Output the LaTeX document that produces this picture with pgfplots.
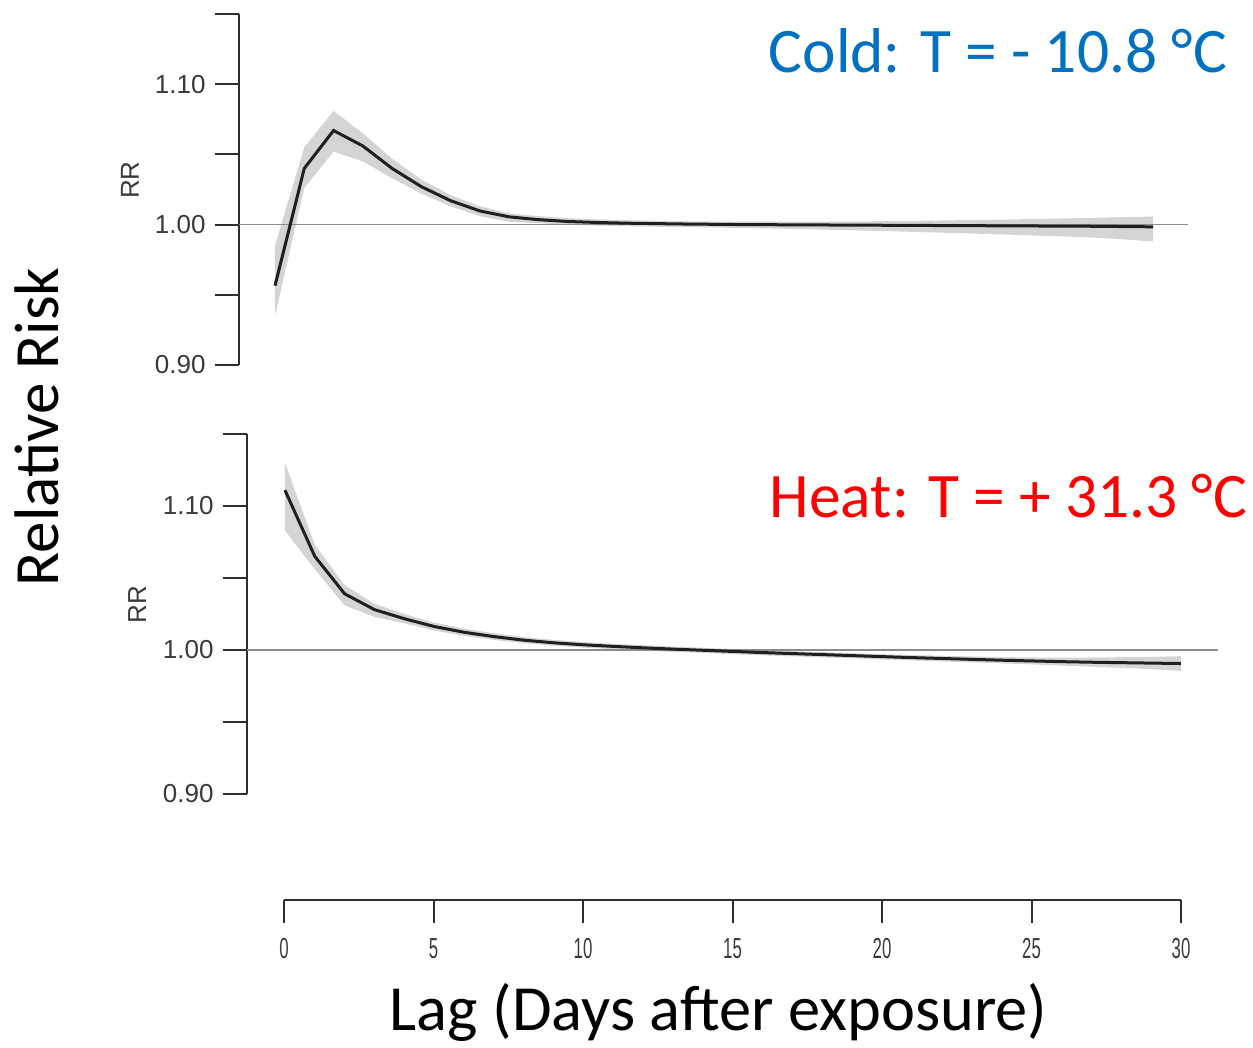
\documentclass[border=0pt]{standalone}
\usepackage{pgfplots}
\usepackage{pgfplotstable}
\pgfplotsset{compat=1.18}
\usepackage{fontspec}
\setmainfont{Carlito}
\newfontfamily\arial{Liberation Sans}

\definecolor{coldblue}{HTML}{0070C0}
\definecolor{heatred}{HTML}{FF0000}
\definecolor{bandgray}{HTML}{D4D4D4}
\definecolor{refgray}{HTML}{8C8C8C}
\definecolor{axisgray}{HTML}{2E2E2E}
\definecolor{labelgray}{HTML}{3A3A3A}
\newcommand\tickfont{\arial\fontsize{13}{15}\selectfont}

% lag, RR (cold, T = -10.8 C)
\pgfplotstableread{
lag rr
0   0.9565
1   1.040
2   1.067
3   1.056
4   1.040
5   1.027
6   1.017
7   1.0097
8   1.0055
9   1.0035
10  1.0022
11  1.0015
12  1.0010
13  1.0007
14  1.0004
15  1.0002
16  1.0000
17  0.9999
18  0.9998
19  0.9997
20  0.9996
21  0.9995
22  0.9994
23  0.9993
24  0.9992
25  0.9991
26  0.9990
27  0.9989
28  0.9988
29  0.9986
30  0.9984
}\coldrr

% lag, RR (heat, T = +31.3 C)
\pgfplotstableread{
lag rr
0   1.111
1   1.065
2   1.039
3   1.028
4   1.0217
5   1.0163
6   1.0123
7   1.0093
8   1.0068
9   1.0050
10  1.0036
11  1.0025
12  1.0015
13  1.0006
14  0.9998
15  0.9990
16  0.9982
17  0.9975
18  0.9968
19  0.9961
20  0.9954
21  0.9947
22  0.9941
23  0.9935
24  0.9929
25  0.9924
26  0.9919
27  0.9915
28  0.9912
29  0.9909
30  0.9906
}\heatrr

\pgfplotsset{
  rrpanel/.style={
    scale only axis,
    anchor=south west,
    hide x axis,
    axis y line*=left,
    ymin=0.9, ymax=1.15,
    ytick={0.9,0.95,1,1.05,1.1,1.15},
    yticklabels={0.90,,1.00,,1.10,},
    tick align=outside,
    major tick length=12pt,
    y axis line style={line width=1pt, color=axisgray},
    tick style={line width=1pt, color=axisgray},
    yticklabel style={font=\tickfont, text=labelgray, inner xsep=4.5pt},
    ylabel={RR},
    ylabel style={font=\tickfont, text=labelgray, anchor=center},
  },
  band/.style={fill=bandgray, draw=none, no markers},
  curve/.style={color=black!88, line width=1.5pt, no markers},
  refline/.style={color=refgray, line width=0.75pt, no markers},
}

\begin{document}
\begin{tikzpicture}
\path[use as bounding box] (0,0) rectangle (626.5pt,524pt);

% cold panel
\begin{axis}[rrpanel,
  at={(119.5pt,341.5pt)}, width=474.5pt, height=175.5pt,
  xmin=-1.23, xmax=31.19,
  ylabel style={at={(axis description cs:-0.115,0.527)}},
]
% confidence band: lower limit lag 0..30, then upper limit lag 30..0
\addplot[band] coordinates {
(0,0.935)(1,1.026)(2,1.052)(3,1.045)(4,1.033)(5,1.022)(6,1.013)(7,1.006)
(8,1.002)(9,1.001)(10,1.000)(11,0.9993)(12,0.9989)(13,0.9985)(14,0.9982)
(15,0.9979)(16,0.9975)(17,0.9972)(18,0.9968)(19,0.9963)(20,0.9958)
(21,0.9953)(22,0.9947)(23,0.9941)(24,0.9935)(25,0.9929)(26,0.9922)
(27,0.9915)(28,0.9907)(29,0.9895)(30,0.9880)
(30,1.0057)(29,1.0053)(28,1.0048)(27,1.0044)(26,1.0040)(25,1.0036)
(24,1.0033)(23,1.0030)(22,1.0027)(21,1.0025)(20,1.0023)(19,1.0022)
(18,1.0021)(17,1.0021)(16,1.0021)(15,1.0022)(14,1.0024)(13,1.0027)
(12,1.0031)(11,1.0037)(10,1.0045)(9,1.006)(8,1.008)(7,1.013)(6,1.021)
(5,1.032)(4,1.047)(3,1.065)(2,1.081)(1,1.055)(0,0.985)
} --cycle;
\addplot[refline] coordinates {(-1.23,1) (31.19,1)};
\addplot[curve] table[x=lag, y=rr]{\coldrr};
\end{axis}

% heat panel
\begin{axis}[rrpanel,
  at={(123.5pt,127pt)}, width=485.5pt, height=180pt,
  xmin=-1.27, xmax=31.24,
  ylabel style={at={(axis description cs:-0.113,0.525)}},
]
\addplot[band] coordinates {
(0,1.083)(1,1.056)(2,1.031)(3,1.023)(4,1.0185)(5,1.0135)(6,1.0098)
(7,1.0070)(8,1.0047)(9,1.0030)(10,1.0017)(11,1.0006)(12,0.9996)
(13,0.9987)(14,0.9979)(15,0.9971)(16,0.9963)(17,0.9956)(18,0.9949)
(19,0.9942)(20,0.9935)(21,0.9928)(22,0.9921)(23,0.9914)(24,0.9907)
(25,0.9900)(26,0.9892)(27,0.9884)(28,0.9876)(29,0.9867)(30,0.9855)
(30,0.9957)(29,0.9952)(28,0.9950)(27,0.9948)(26,0.9947)(25,0.9948)
(24,0.9951)(23,0.9955)(22,0.9960)(21,0.9965)(20,0.9971)(19,0.9978)
(18,0.9985)(17,0.9992)(16,0.9999)(15,1.0007)(14,1.0015)(13,1.0024)
(12,1.0033)(11,1.0043)(10,1.0055)(9,1.0070)(8,1.0090)(7,1.0116)
(6,1.0148)(5,1.019)(4,1.025)(3,1.032)(2,1.045)(1,1.073)(0,1.130)
} --cycle;
\addplot[refline] coordinates {(-1.27,1) (31.24,1)};
\addplot[curve] table[x=lag, y=rr]{\heatrr};
\end{axis}

% shared lag axis
\begin{axis}[
  scale only axis,
  anchor=south west,
  at={(142pt,74pt)}, width=448.5pt, height=20pt,
  xmin=0, xmax=30, ymin=0, ymax=1,
  axis x line*=bottom, hide y axis,
  xtick={0,5,...,30},
  tick align=outside,
  major tick length=11.5pt,
  x axis line style={line width=1pt, color=axisgray},
  tick style={line width=1pt, color=axisgray},
  xticklabel style={font=\arial\fontsize{14.5}{16}\selectfont, text=labelgray, xscale=0.58, yshift=-4pt},
  /pgf/number format/assume math mode=true,
]
\addplot[draw=none, no markers] coordinates {(0,0) (30,1)};
\end{axis}

\node[anchor=base, text=coldblue, font=\fontsize{31.7}{38}\selectfont] at (499pt,487.5pt) {Cold: T = - 10.8 °C};
\node[anchor=base, text=heatred, font=\fontsize{31.7}{38}\selectfont] at (504.25pt,265pt) {Heat: T = + 31.3 °C};
\node[anchor=base, font=\fontsize{32.2}{38}\selectfont] at (359.25pt,8.5pt) {Lag (Days after exposure)};
\node[anchor=base, rotate=90, font=\fontsize{31.5}{38}\selectfont] at (29pt,310.5pt) {Relative Risk};
\end{tikzpicture}
\end{document}
